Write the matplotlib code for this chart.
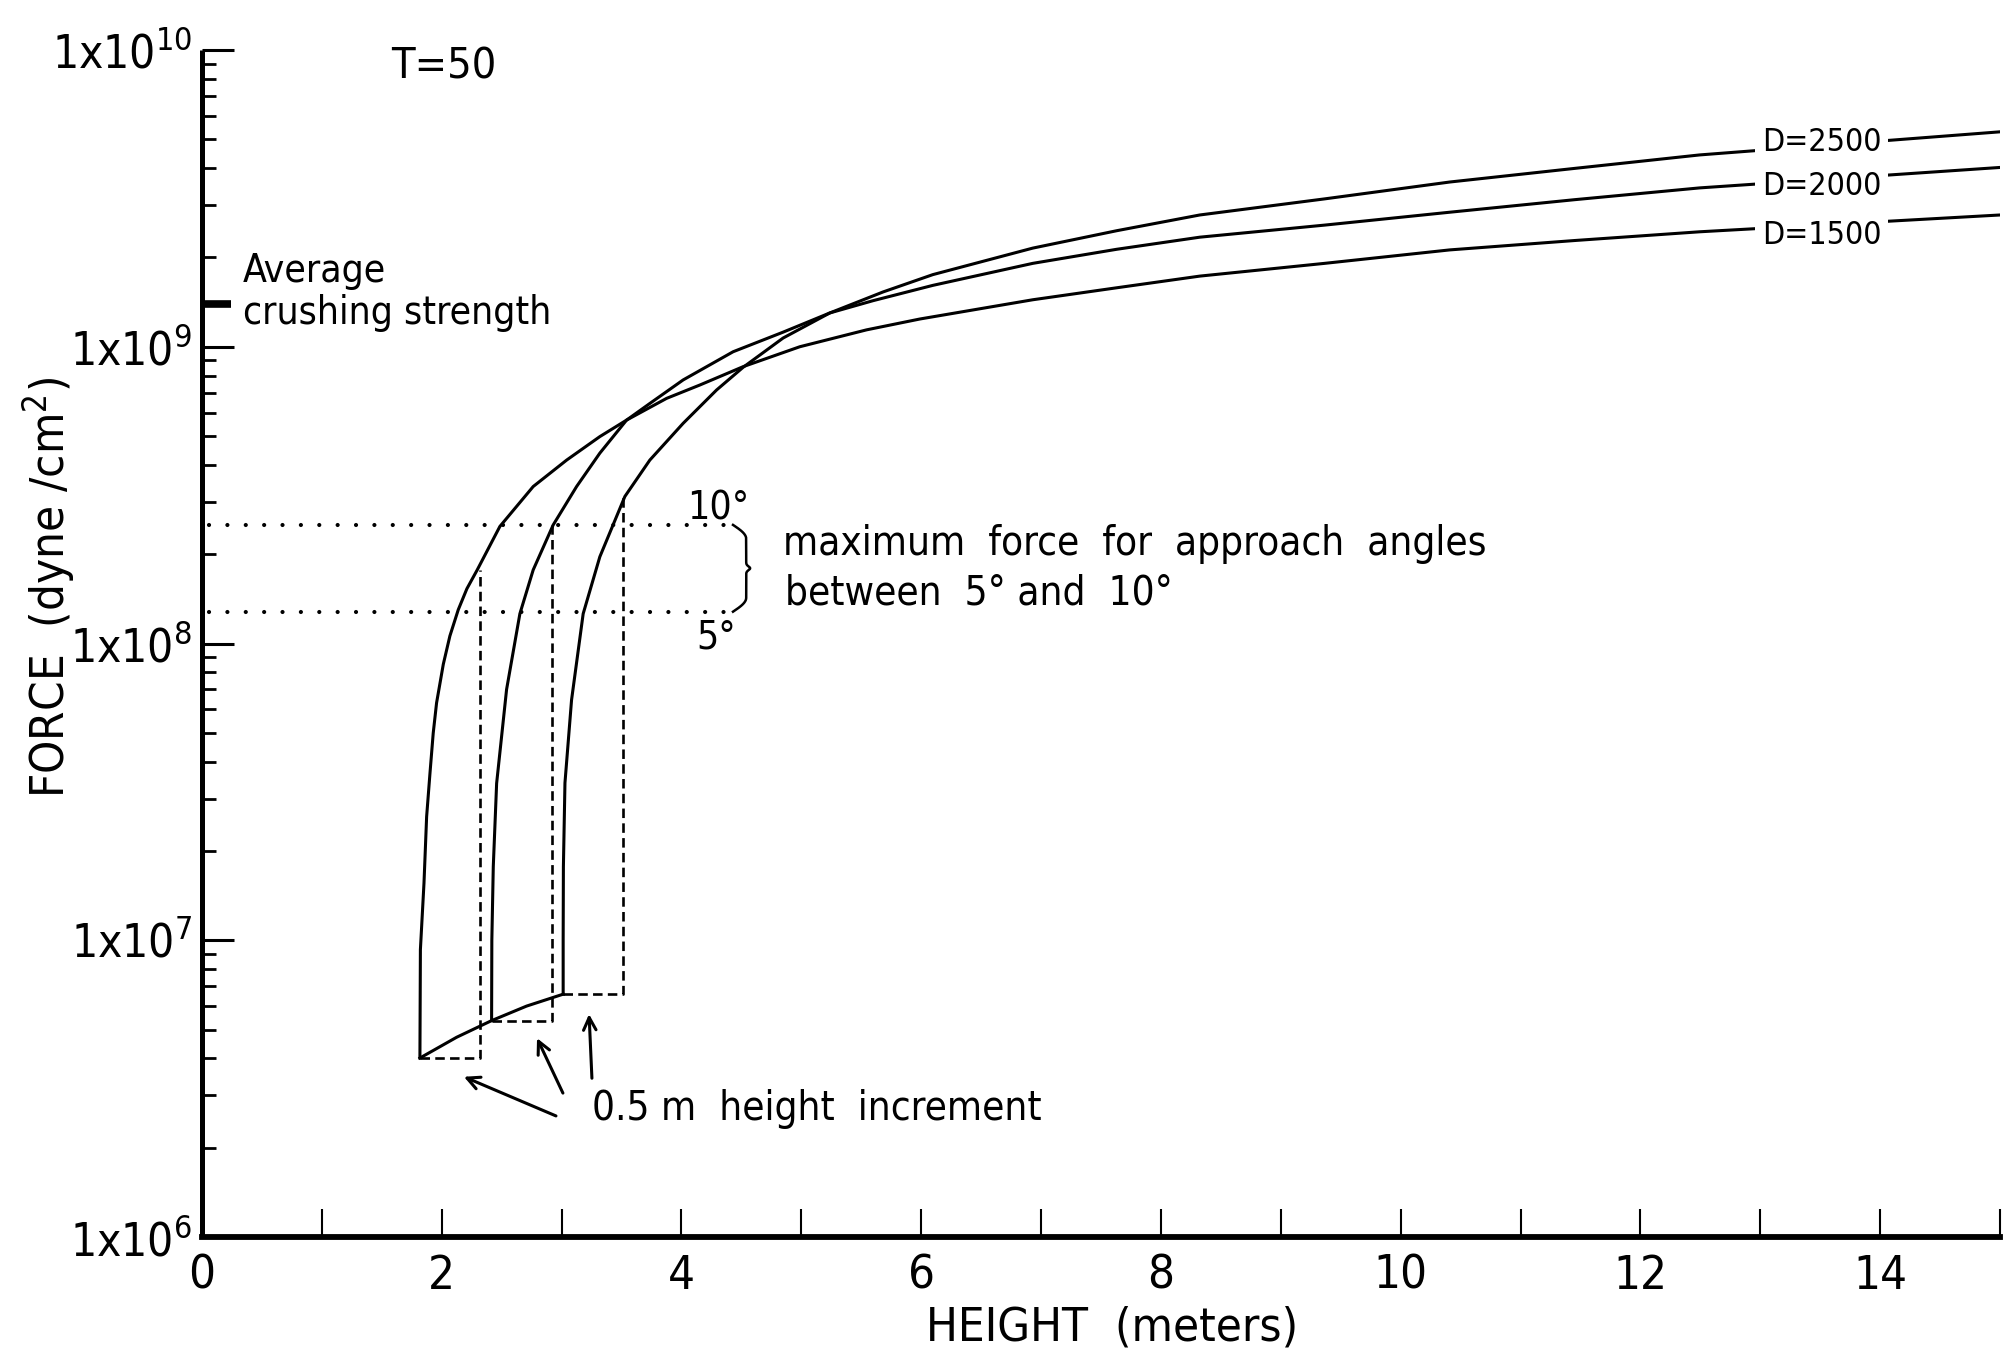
import numpy as np
import matplotlib
matplotlib.use("Agg")
import matplotlib.pyplot as plt
from matplotlib import font_manager as fm
from matplotlib.ticker import FixedLocator, FixedFormatter, LogLocator, NullFormatter

# ---------------------------------------------------------------- data
curve_labels = ["D=1500", "D=2000", "D=2500"]

height_d1500 = [1.818, 1.822, 1.852, 1.874, 1.902, 1.929, 1.957, 2.013, 2.068, 2.138,
                2.210, 2.296, 2.485, 2.763, 3.042, 3.319, 3.542, 3.876, 4.153, 4.515,
                4.987, 5.544, 5.988, 6.931, 7.630, 8.324, 9.366, 10.409, 11.450,
                12.494, 15.0]
force_d1500 = [4.01e6, 9.3e6, 1.56e7, 2.61e7, 3.66e7, 4.99e7, 6.31e7, 8.51e7, 1.06e8,
               1.30e8, 1.53e8, 1.77e8, 2.48e8, 3.38e8, 4.15e8, 4.98e8, 5.66e8, 6.70e8,
               7.43e8, 8.57e8, 1.00e9, 1.14e9, 1.24e9, 1.44e9, 1.58e9, 1.73e9, 1.91e9,
               2.12e9, 2.28e9, 2.44e9, 2.78e9]

height_d2000 = [2.416, 2.418, 2.430, 2.458, 2.541, 2.652, 2.763, 2.930, 3.125, 3.319,
                3.542, 3.736, 4.014, 4.431, 4.848, 5.238, 5.599, 6.097, 6.931, 7.630,
                8.324, 9.366, 10.409, 11.450, 12.494, 15.0]
force_d2000 = [5.36e6, 1.0e7, 1.77e7, 3.38e7, 7.0e7, 1.26e8, 1.77e8, 2.51e8, 3.38e8,
               4.38e8, 5.66e8, 6.44e8, 7.73e8, 9.62e8, 1.12e9, 1.30e9, 1.43e9, 1.61e9,
               1.91e9, 2.13e9, 2.34e9, 2.57e9, 2.84e9, 3.13e9, 3.43e9, 4.02e9]

height_d2500 = [3.013, 3.013, 3.015, 3.028, 3.083, 3.180, 3.319, 3.528, 3.736, 4.014,
                4.293, 4.515, 4.848, 5.238, 5.682, 6.097, 6.931, 7.630, 8.324, 9.366,
                10.409, 11.450, 12.494, 15.0]
force_d2500 = [6.58e6, 1.0e7, 1.77e7, 3.39e7, 6.45e7, 1.26e8, 1.96e8, 3.13e8, 4.15e8,
               5.52e8, 7.15e8, 8.53e8, 1.07e9, 1.30e9, 1.53e9, 1.75e9, 2.15e9, 2.46e9,
               2.78e9, 3.15e9, 3.59e9, 3.99e9, 4.43e9, 5.30e9]

# starting points of each curve and the force reached 0.5 m higher
start_heights = [1.818, 2.416, 3.013]
start_forces = [4.01e6, 5.36e6, 6.58e6]
height_increment = 0.5
force_after_increment = [1.77e8, 2.51e8, 3.13e8]

# locus joining the starting points
locus_height = [1.818, 2.124, 2.416, 2.708, 3.013]
locus_force = [4.01e6, 4.71e6, 5.36e6, 6.00e6, 6.58e6]

# approach-angle limits
angle_labels = ["5°", "10°"]
angle_forces = [1.28e8, 2.51e8]
angle_line_end = 4.38

crushing_strength = 1.39e9

x_ticks = list(range(0, 16))
x_ticklabels = [str(t) if t % 2 == 0 else "" for t in x_ticks]
y_ticks = [1e6, 1e7, 1e8, 1e9, 1e10]
y_exponents = [6, 7, 8, 9, 10]

# label positions (height, force)
label_x = 13.51
label_forces = [2.38e9, 3.46e9, 4.86e9]

# ---------------------------------------------------------------- fonts
def _has_condensed():
    for f in fm.fontManager.ttflist:
        if f.name == "DejaVu Sans" and str(f.stretch).lower() in ("condensed", "semi-condensed"):
            return True
    return False

plt.rcParams["font.family"] = ["DejaVu Sans"]
if _has_condensed():
    plt.rcParams["font.stretch"] = "condensed"
plt.rcParams["mathtext.default"] = "regular"

INK = "black"

fig = plt.figure(figsize=(20.05, 13.51), dpi=100)
ax = fig.add_axes([202 / 2005, 1 - 1237 / 1351, (2000 - 202) / 2005, (1237 - 50) / 1351])
ax.set_yscale("log")
ax.set_xlim(0, 15)
ax.set_ylim(1e6, 1e10)

for side in ("top", "right"):
    ax.spines[side].set_visible(False)
ax.spines["left"].set_linewidth(3.6)
ax.spines["bottom"].set_linewidth(4.2)
ax.spines["left"].set_capstyle("butt")

ax.xaxis.set_major_locator(FixedLocator(x_ticks))
ax.xaxis.set_major_formatter(FixedFormatter(x_ticklabels))
ax.yaxis.set_major_locator(FixedLocator(y_ticks))
ax.yaxis.set_major_formatter(FixedFormatter([r"$1x10^{%d}$" % e for e in y_exponents]))
ax.yaxis.set_minor_locator(LogLocator(base=10, subs=np.arange(2, 10)))
ax.yaxis.set_minor_formatter(NullFormatter())

ax.tick_params(axis="x", which="major", direction="in", length=20, width=1.5,
               labelsize=34, pad=12)
ax.tick_params(axis="y", which="major", direction="in", length=23, width=2.2,
               labelsize=33, pad=7)
ax.tick_params(axis="y", which="minor", direction="in", length=10, width=2.0)

# ---------------------------------------------------------------- curves
lw = 2.2
for h, f in [(height_d1500, force_d1500), (height_d2000, force_d2000), (height_d2500, force_d2500)]:
    ax.plot(h, f, color=INK, lw=lw, solid_joinstyle="round", zorder=3)

ax.plot(locus_height, locus_force, color=INK, lw=lw, zorder=3)

# dashed boxes showing the 0.5 m height increment
for h0, f0, f1 in zip(start_heights, start_forces, force_after_increment):
    h1 = h0 + height_increment
    ax.plot([h0, h1, h1], [f0, f0, f1], color=INK, lw=1.9,
            linestyle=(0, (3.6, 2.0)), zorder=2)

# dotted approach-angle levels
for f in angle_forces:
    ax.plot([0.06, angle_line_end], [f, f], color=INK, lw=3.0,
            linestyle=(0, (0.01, 4.4)), dash_capstyle="round", zorder=2)

# brace between the two angle levels
t = np.linspace(0, 1, 300)
ly0, ly1 = np.log10(angle_forces[0]), np.log10(angle_forces[1])
shape = np.ones_like(t)
end = 0.16
lo = t < end
shape[lo] = np.sin(0.5 * np.pi * t[lo] / end)
hi = t > 1 - end
shape[hi] = np.sin(0.5 * np.pi * (1 - t[hi]) / end)
shape += 0.3 * np.exp(-((t - 0.5) / 0.03) ** 2)
ax.plot(angle_line_end + 0.05 + 0.11 * shape, 10 ** (ly0 + t * (ly1 - ly0)),
        color=INK, lw=1.8, zorder=2)

# crushing strength marker on the axis
ax.plot([0, 0.24], [crushing_strength, crushing_strength], color=INK, lw=5.5,
        solid_capstyle="butt", clip_on=False, zorder=4)

# ---------------------------------------------------------------- text
for lab, f in zip(curve_labels, label_forces):
    ax.text(label_x, f, lab, fontsize=23, ha="center", va="center", zorder=5,
            bbox=dict(facecolor="white", edgecolor="none", pad=5))

ax.text(2.016, 8.79e9, "T=50", fontsize=31, ha="center", va="center")
ax.text(0.342, 1.80e9, "Average", fontsize=28, ha="left", va="center")
ax.text(0.342, 1.30e9, "crushing strength", fontsize=28, ha="left", va="center")

ax.text(4.309, 2.84e8, angle_labels[1], fontsize=28, ha="center", va="center")
ax.text(4.287, 1.05e8, angle_labels[0], fontsize=28, ha="center", va="center")
ax.text(4.843, 2.17e8, "maximum  force  for  approach  angles", fontsize=29,
        ha="left", va="center")
ax.text(4.86, 1.47e8, "between  5° and  10°", fontsize=29, ha="left", va="center")

ax.text(3.253, 2.70e6, "0.5 m  height  increment", fontsize=29, ha="left", va="center")

arrow_tails = [(2.953, 10 ** 6.408), (3.011, 10 ** 6.485), (3.253, 10 ** 6.535)]
arrow_heads = [(2.185, 10 ** 6.540), (2.795, 10 ** 6.670), (3.229, 10 ** 6.751)]
for tail, head in zip(arrow_tails, arrow_heads):
    ax.annotate("", xy=head, xytext=tail,
                arrowprops=dict(arrowstyle="->,head_length=0.9,head_width=0.45",
                                color=INK, lw=2.2, shrinkA=0, shrinkB=0))

fig.text(49 / 2005, 1 - 588 / 1351, "FORCE  (dyne /cm$^2$)", fontsize=34,
         rotation=90, ha="center", va="center")
fig.text(1112 / 2005, 1 - 1328 / 1351, "HEIGHT  (meters)", fontsize=34,
         ha="center", va="center")

fig.savefig("out.png", dpi=100, facecolor="white")
